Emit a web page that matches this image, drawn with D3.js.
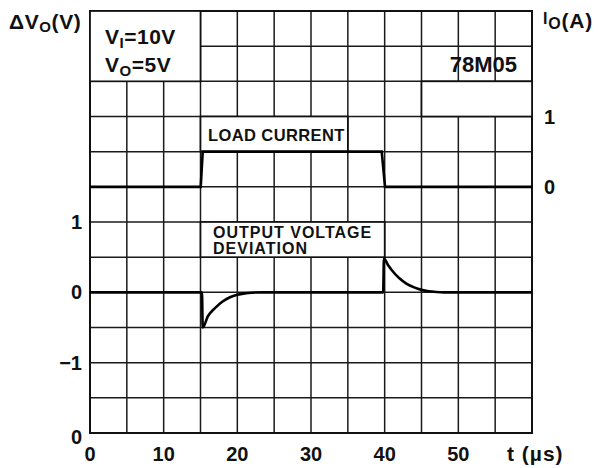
<!DOCTYPE html>
<html>
<head>
<meta charset="utf-8">
<script src="https://cdn.jsdelivr.net/npm/d3@7/dist/d3.min.js"></script>
<style>
  html, body { margin: 0; padding: 0; background: #fff; }
  svg text { font-family: "Liberation Sans", Arial, Helvetica, sans-serif; font-weight: bold; fill: #111; }
</style>
</head>
<body>
<svg id="chart" width="598" height="468"></svg>
<script>
// ---- data ----
const timeTickValues = [0, 10, 20, 30, 40, 50];
const timeTickLabels = ["0", "10", "20", "30", "40", "50"];
const voltTickValues = [1, 0, -1, -2];
const voltTickLabels = ["1", "0", "\u22121", "0"];
const currTickValues = [1, 0];
const currTickLabels = ["1", "0"];

// load current step (A) vs time (µs)
const loadTime    = [0, 15.03, 15.3, 39.6, 40.05, 60];
const loadCurrent = [0, 0,     0.5,  0.5,  0,     0];

// output voltage deviation (V) vs time (µs)
const devTime    = [0, 15.2, 15.3, 16, 17, 18, 19, 20, 21, 22, 23.5, 39.8, 39.9, 40.5, 41, 42, 43, 44, 45, 46, 47, 48, 60];
const devVoltage = [0, 0, -0.5, -0.34, -0.22, -0.13, -0.07, -0.035, -0.015, -0.005, 0, 0, 0.48, 0.38, 0.31, 0.2, 0.12, 0.07, 0.035, 0.015, 0.005, 0, 0];

// ---- scales ----
const svg = d3.select("#chart");
const x = d3.scaleLinear().domain([0, 60]).range([90, 532]);
const yV = d3.scaleLinear().domain([-2, 4]).range([433, 11]);
const yI = d3.scaleLinear().domain([-3.5, 2.5]).range([433, 11]);

// ---- grid ----
const gridX = d3.range(0, 60.01, 5);
const gridY = d3.range(-2, 4.01, 0.5);
const grid = svg.append("g").attr("stroke", "#1a1a1a").attr("stroke-width", 1.5);
grid.selectAll("line.v").data(gridX).join("line")
  .attr("x1", d => x(d)).attr("x2", d => x(d))
  .attr("y1", yV(-2)).attr("y2", yV(4));
grid.selectAll("line.h").data(gridY).join("line")
  .attr("x1", x(0)).attr("x2", x(60))
  .attr("y1", d => yV(d)).attr("y2", d => yV(d));

// outer frame
svg.append("rect")
  .attr("x", x(0)).attr("y", yV(4))
  .attr("width", x(60) - x(0)).attr("height", yV(-2) - yV(4))
  .attr("fill", "none").attr("stroke", "#111").attr("stroke-width", 2);

// label boxes (merged cells)
const boxes = [
  { t0: 0,  t1: 15, v0: 3.0, v1: 4.0 },
  { t0: 45, t1: 60, v0: 2.5, v1: 3.0 },
  { t0: 15, t1: 35, v0: 2.0, v1: 2.5 },
  { t0: 15, t1: 40, v0: 0.5, v1: 1.0 }
];
svg.selectAll("rect.box").data(boxes).join("rect")
  .attr("x", d => x(d.t0)).attr("y", d => yV(d.v1))
  .attr("width", d => x(d.t1) - x(d.t0)).attr("height", d => yV(d.v0) - yV(d.v1))
  .attr("fill", "#fff").attr("stroke", "#111").attr("stroke-width", 1.7);

// ---- curves ----
const loadLine = d3.line().x((d, i) => x(loadTime[i])).y((d, i) => yI(loadCurrent[i]));
svg.append("path").attr("d", loadLine(loadTime))
  .attr("fill", "none").attr("stroke", "#000").attr("stroke-width", 2.6);

const devLine = d3.line().x((d, i) => x(devTime[i])).y((d, i) => yV(devVoltage[i])).curve(d3.curveMonotoneX);
svg.append("path").attr("d", devLine(devTime))
  .attr("fill", "none").attr("stroke", "#000").attr("stroke-width", 2.6);

// ---- axis labels ----
svg.selectAll("text.xt").data(timeTickValues).join("text")
  .attr("x", d => x(d)).attr("y", 461)
  .attr("text-anchor", "middle").attr("font-size", 20)
  .text((d, i) => timeTickLabels[i]);

svg.append("text").attr("x", 507).attr("y", 461).attr("font-size", 21)
  .attr("letter-spacing", 1).text("t (\u00b5s)");

svg.selectAll("text.yl").data(voltTickValues).join("text")
  .attr("x", 82).attr("y", d => yV(d) + 7 + (d === -2 ? 4 : 0))
  .attr("text-anchor", "end").attr("font-size", 20)
  .text((d, i) => voltTickLabels[i]);

svg.selectAll("text.yr").data(currTickValues).join("text")
  .attr("x", 544).attr("y", d => yI(d) + 7)
  .attr("text-anchor", "start").attr("font-size", 20)
  .text((d, i) => currTickLabels[i]);

// axis titles
const tl = svg.append("text").attr("x", 9).attr("y", 29).attr("font-size", 21).attr("letter-spacing", 0.6);
tl.append("tspan").text("\u0394V");
tl.append("tspan").attr("font-size", 15).attr("dy", 3).text("O");
tl.append("tspan").attr("dy", -3).text("(V)");

const tr = svg.append("text").attr("x", 543).attr("y", 28).attr("font-size", 21).attr("letter-spacing", 0.8);
tr.append("tspan").attr("font-size", 16).attr("dy", -4).text("I");
tr.append("tspan").attr("font-size", 16).attr("dy", 5).text("O");
tr.append("tspan").attr("dy", -1).text("(A)");

// conditions
const c1 = svg.append("text").attr("x", 105).attr("y", 44).attr("font-size", 21).attr("letter-spacing", 0.5);
c1.append("tspan").text("V");
c1.append("tspan").attr("font-size", 15).attr("dy", 4).text("I");
c1.append("tspan").attr("dy", -4).text("=10V");
const c2 = svg.append("text").attr("x", 105).attr("y", 72).attr("font-size", 21).attr("letter-spacing", 0.5);
c2.append("tspan").text("V");
c2.append("tspan").attr("font-size", 15).attr("dy", 4).text("O");
c2.append("tspan").attr("dy", -4).text("=5V");

svg.append("text").attr("x", 517).attr("y", 72).attr("text-anchor", "end")
  .attr("font-size", 22).text("78M05");

svg.append("text").attr("x", 208).attr("y", 141).attr("font-size", 16.5).attr("letter-spacing", 0.4).text("LOAD  CURRENT");
svg.append("text").attr("x", 213).attr("y", 238).attr("font-size", 16).attr("letter-spacing", 1).text("OUTPUT  VOLTAGE");
svg.append("text").attr("x", 213).attr("y", 254).attr("font-size", 16).attr("letter-spacing", 1).text("DEVIATION");
</script>
</body>
</html>
